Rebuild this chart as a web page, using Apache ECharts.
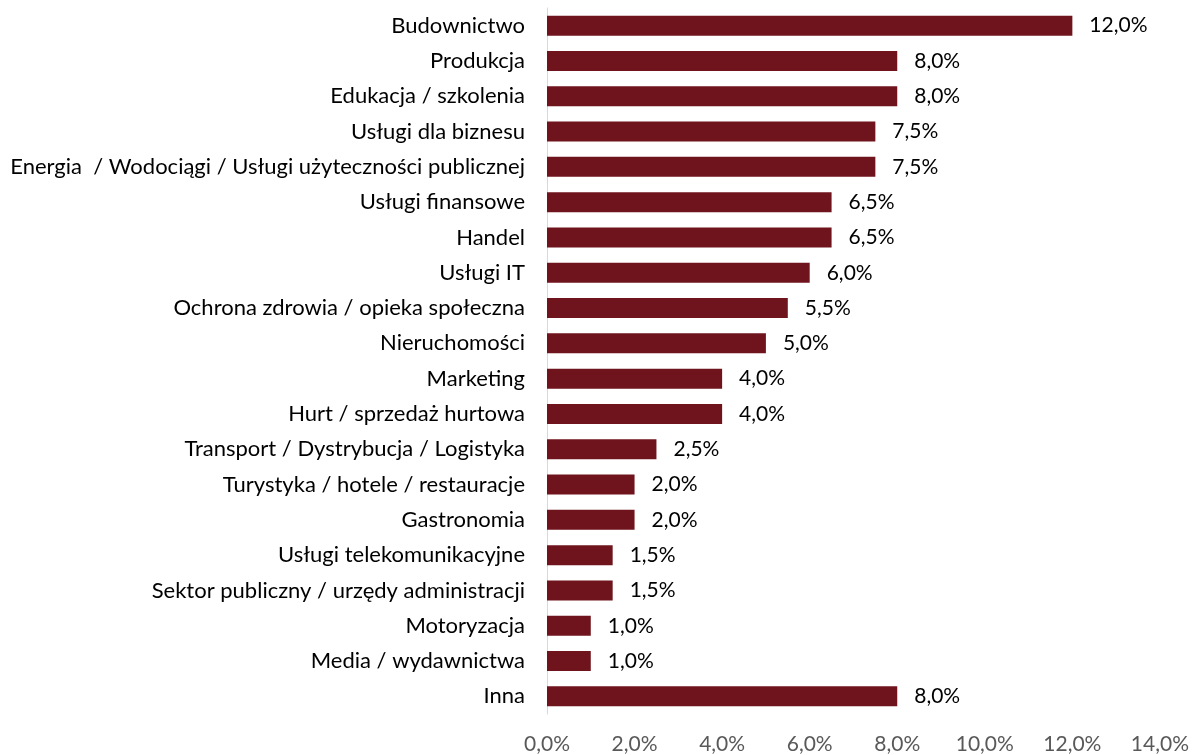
<!DOCTYPE html>
<html>
<head>
<meta charset="utf-8">
<script src="https://cdn.jsdelivr.net/npm/echarts@6/dist/echarts.min.js"></script>
<style>
  html, body { margin: 0; padding: 0; background: #fff; }
  #wykres { width: 1192px; height: 755px; }
</style>
</head>
<body>
<div id="wykres"></div>
<script>
// branże - od góry do dołu
var branze = [
  'Budownictwo',
  'Produkcja',
  'Edukacja / szkolenia',
  'Usługi dla biznesu',
  'Energia  / Wodociągi / Usługi użyteczności publicznej',
  'Usługi finansowe',
  'Handel',
  'Usługi IT',
  'Ochrona zdrowia / opieka społeczna',
  'Nieruchomości',
  'Marketing',
  'Hurt / sprzedaż hurtowa',
  'Transport / Dystrybucja / Logistyka',
  'Turystyka / hotele / restauracje',
  'Gastronomia',
  'Usługi telekomunikacyjne',
  'Sektor publiczny / urzędy administracji',
  'Motoryzacja',
  'Media / wydawnictwa',
  'Inna'
];
var udzial = [12.0, 8.0, 8.0, 7.5, 7.5, 6.5, 6.5, 6.0, 5.5, 5.0, 4.0, 4.0, 2.5, 2.0, 2.0, 1.5, 1.5, 1.0, 1.0, 8.0];
var osX = { min: 0, max: 14, krok: 2 };

function procent(v) {
  return Number(v).toFixed(1).replace('.', ',') + '%';
}

var myChart = echarts.init(document.getElementById('wykres'));
var czcionka = 'Lato, "Open Sans", sans-serif';

myChart.setOption({
  animation: false,
  grid: { left: 547, right: 32, top: 8, bottom: 40, containLabel: false },
  xAxis: {
    type: 'value',
    min: osX.min,
    max: osX.max,
    interval: osX.krok,
    axisLine: { show: false },
    axisTick: { show: false },
    splitLine: { show: false },
    axisLabel: {
      formatter: procent,
      color: '#595959',
      fontSize: 21,
      fontFamily: czcionka,
      margin: 20
    }
  },
  yAxis: {
    type: 'category',
    data: branze,
    inverse: true,
    axisLine: { show: true, lineStyle: { color: '#d9d9d9', width: 1 } },
    axisTick: { show: false },
    axisLabel: {
      color: '#000',
      fontSize: 22,
      fontFamily: czcionka,
      margin: 22
    }
  },
  series: [{
    type: 'bar',
    data: udzial,
    barWidth: 20,
    itemStyle: { color: '#6f141c' },
    label: {
      show: true,
      position: 'right',
      distance: 17,
      formatter: function (p) { return procent(p.value); },
      color: '#000',
      fontSize: 21,
      fontFamily: czcionka
    }
  }]
});
window.onresize = myChart.resize;
</script>
</body>
</html>
